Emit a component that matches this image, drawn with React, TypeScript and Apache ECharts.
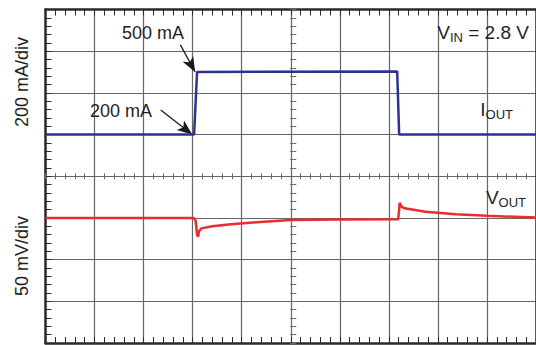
import React, { useEffect, useRef } from "react";
import * as echarts from "echarts";

// Time axis in scope divisions (10 horizontal divisions)
const T_IOUT = [0, 3.03, 3.09, 7.17, 7.21, 10];
// Load current, mA (200 mA/div, 0 mA on the centre line)
const IOUT_MA = [200, 200, 500, 503, 200, 200];

const T_VOUT = [0, 3.02, 3.06, 3.09, 3.11, 3.13, 3.18, 3.4, 3.78, 4.45, 5.0, 6.0, 7.19, 7.21, 7.22, 7.26, 7.32, 7.75, 8.36, 9.0, 10];
// Output voltage deviation, mV (50 mV/div)
const VOUT_MV = [0, 0, -3, -20, -22.5, -16, -12.5, -10, -7.5, -4.5, -2.5, -2, -1.6, 10, 18, 13.5, 11.5, 7.5, 4.5, 2.5, 0.5];

const LOW_LABEL = 200;
const HIGH_LABEL = 500;

const FONT = "Liberation Sans, Arial, sans-serif";
const GRID_COLOR = "#666666";
const FRAME_COLOR = "#2a2a2a";
const INK = "#231f20";

export default function App() {
  const ref = useRef<HTMLDivElement>(null);

  useEffect(() => {
    document.body.style.margin = "0";
    const chart = echarts.init(ref.current!, null, { renderer: "svg" });

    const gridH = 345 - 9.5 - 2;
    const gridW = 536 - 45.5 + 5;

    const frameX = (position: "top" | "bottom", extra: any = {}) => ({
      type: "value",
      min: 0,
      max: 10,
      interval: 1,
      position,
      axisLine: { show: true, onZero: false, lineStyle: { color: FRAME_COLOR, width: 2.5 } },
      axisTick: { show: true, inside: true, length: 6, lineStyle: { color: FRAME_COLOR, width: 1 } },
      minorTick: { show: true, splitNumber: 5, length: 6, lineStyle: { color: FRAME_COLOR, width: 1 } },
      axisLabel: { show: false },
      splitLine: { show: false },
      ...extra,
    });

    const centreX = (inside: boolean) => ({
      type: "value",
      min: 0,
      max: 10,
      interval: 1,
      position: "bottom",
      offset: -gridH / 2,
      axisLine: { show: false, onZero: false },
      axisTick: { show: true, inside, length: 3, lineStyle: { color: GRID_COLOR, width: 1 } },
      minorTick: { show: true, splitNumber: 5, length: 3, lineStyle: { color: GRID_COLOR, width: 1 } },
      axisLabel: { show: false },
      splitLine: { show: false },
    });

    const centreY = (inside: boolean) => ({
      type: "value",
      min: 0,
      max: 8,
      interval: 1,
      position: "left",
      offset: -gridW / 2,
      axisLine: { show: false, onZero: false },
      axisTick: { show: true, inside, length: 3, lineStyle: { color: GRID_COLOR, width: 1 } },
      minorTick: { show: true, splitNumber: 5, length: 3, lineStyle: { color: GRID_COLOR, width: 1 } },
      axisLabel: { show: false },
      splitLine: { show: false },
    });

    const iData = T_IOUT.map((t, i) => [t, IOUT_MA[i]]);
    const vData = T_VOUT.map((t, i) => [t, VOUT_MV[i]]);

    const plain = (text: string, x: number, y: number, extra: any = {}) => ({
      type: "text",
      x,
      y,
      style: { text, font: `18px ${FONT}`, fill: INK, ...extra },
      z: 10,
    });

    const subRich = {
      m: { font: `19px ${FONT}`, fill: INK, lineHeight: 24, verticalAlign: "middle" },
      s: { font: `13px ${FONT}`, fill: INK, lineHeight: 13, verticalAlign: "bottom" },
    };

    const subText = (text: string, x: number, y: number) => ({
      type: "text",
      x,
      y,
      z: 10,
      style: { text, align: "right", verticalAlign: "bottom", fill: INK, rich: subRich },
    });

    chart.setOption({
      animation: false,
      grid: { left: 45.5, top: 9.5, right: -5, bottom: 2, show: false },
      xAxis: [
        frameX("bottom", {
          splitLine: { show: true, lineStyle: { color: GRID_COLOR, width: 1.2 } },
        }),
        frameX("top"),
        centreX(true),
        centreX(false),
      ],
      yAxis: [
        {
          // Current scale: 200 mA/div
          type: "value",
          min: -800,
          max: 800,
          interval: 200,
          position: "left",
          axisLine: { show: true, onZero: false, lineStyle: { color: FRAME_COLOR, width: 2.5 } },
          axisTick: { show: true, inside: true, length: 6, lineStyle: { color: FRAME_COLOR, width: 1 } },
          minorTick: { show: true, splitNumber: 5, length: 6, lineStyle: { color: FRAME_COLOR, width: 1 } },
          axisLabel: { show: false },
          splitLine: { show: true, lineStyle: { color: GRID_COLOR, width: 1.2 } },
        },
        {
          // Voltage scale: 50 mV/div
          type: "value",
          min: -150,
          max: 250,
          interval: 50,
          position: "right",
          axisLine: { show: true, onZero: false, lineStyle: { color: FRAME_COLOR, width: 2.5 } },
          axisTick: { show: false },
          axisLabel: { show: false },
          splitLine: { show: false },
        },
        centreY(true),
        centreY(false),
      ],
      series: [
        {
          name: "IOUT",
          type: "line",
          xAxisIndex: 0,
          yAxisIndex: 0,
          data: iData,
          showSymbol: false,
          symbol: "none",
          lineStyle: { color: "#2e3192", width: 2.5 },
          z: 5,
          markLine: {
            silent: true,
            animation: false,
            symbol: ["none", "arrow"],
            symbolSize: [9, 15],
            lineStyle: { color: "#1a1a1a", width: 1.3, type: "solid" },
            itemStyle: { color: "#1a1a1a" },
            label: { show: false },
            data: [
              [{ coord: [2.75, 630] }, { coord: [3.05, HIGH_LABEL] }],
              [{ coord: [2.35, 318] }, { coord: [2.99, LOW_LABEL] }],
            ],
          },
        },
        {
          name: "VOUT",
          type: "line",
          xAxisIndex: 0,
          yAxisIndex: 1,
          data: vData,
          showSymbol: false,
          symbol: "none",
          lineStyle: { color: "#ee2a2e", width: 2.5 },
          z: 5,
        },
      ],
      graphic: [
        plain(`${HIGH_LABEL} mA`, 153, 33, { align: "center", verticalAlign: "middle" }),
        plain(`${LOW_LABEL} mA`, 121, 111, { align: "center", verticalAlign: "middle" }),
        {
          type: "text",
          x: 22,
          y: 82,
          rotation: Math.PI / 2,
          style: { text: "200 mA/div", font: `18px ${FONT}`, fill: INK, align: "center", verticalAlign: "middle" },
        },
        {
          type: "text",
          x: 22,
          y: 256,
          rotation: Math.PI / 2,
          style: { text: "50 mV/div", font: `18px ${FONT}`, fill: INK, align: "center", verticalAlign: "middle" },
        },
        subText("{m|V}{s|IN}{m| = 2.8 V}", 529, 44),
        subText("{m|I}{s|OUT}", 513, 121),
        subText("{m|V}{s|OUT}", 526, 209),
      ],
    });

    return () => chart.dispose();
  }, []);

  return (
    <div
      ref={ref}
      style={{ position: "absolute", left: 0, top: 0, width: 536, height: 345, background: "#fff" }}
    />
  );
}
